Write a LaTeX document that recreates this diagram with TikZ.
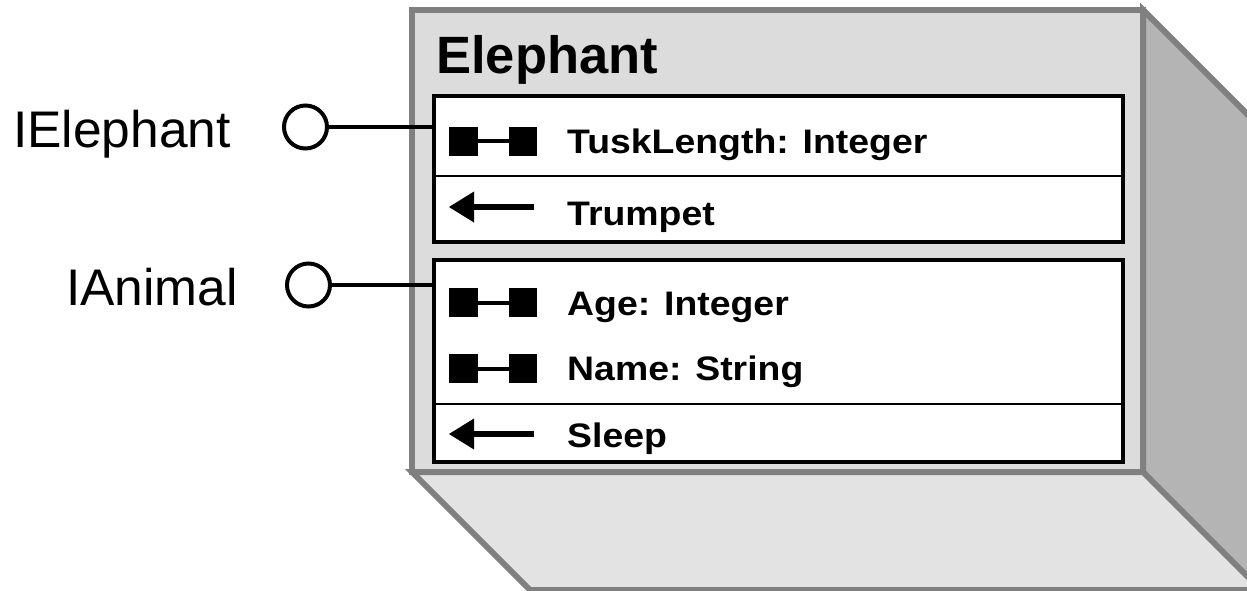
\documentclass[tikz,border=0pt]{standalone}
\usepackage{fontspec}
\setmainfont{Liberation Sans}
\usepackage{graphicx}
\definecolor{facefront}{gray}{0.863}
\definecolor{facebottom}{gray}{0.89}
\definecolor{faceside}{gray}{0.706}
\definecolor{edgegray}{gray}{0.5}
\newcommand{\memstretch}[1]{\scalebox{1.10}[1]{#1}}
\tikzset{
  edge/.style={draw=edgegray, line width=6pt, line join=miter},
  membox/.style={draw=black, fill=white, line width=4.5pt, rectangle, inner sep=0pt},
  divider/.style={draw=black, line width=2.5pt},
  memtext/.style={anchor=base west, inner sep=0pt, font=\fontsize{34}{40}\selectfont\bfseries},
  titletext/.style={anchor=base west, inner sep=0pt, font=\fontsize{52.5}{62}\selectfont\bfseries},
  iftext/.style={anchor=base east, inner sep=0pt, font=\fontsize{51.5}{61}\selectfont},
  lollipop/.style={circle, draw=black, fill=white, line width=4pt, minimum size=43pt, inner sep=0pt},
  conn/.style={draw=black, line width=3.5pt},
  propicon/.pic={
    \fill[black] (-44,-14.5) rectangle (-15,14.5);
    \fill[black] (16,-14.5) rectangle (44,14.5);
    \draw[black, line width=4pt] (-16,0) -- (17,0);
  },
  methicon/.pic={
    \fill[black] (-42,0) -- (-17,-15.5) -- (-17,15.5) -- cycle;
    \fill[black] (-18,-3) rectangle (43,3);
  }
}
\begin{document}
\begin{tikzpicture}[x=1pt,y=-1pt]
\useasboundingbox (0,0) rectangle (1247,590);
\clip (0,0) rectangle (1247,590);
% 3D faces
\filldraw[edge, fill=faceside] (1143,10) -- (1261,128) -- (1261,608) -- (1143,472) -- cycle;
\filldraw[edge, fill=facebottom] (412,472) -- (1143,472) -- (1261,590) -- (530,590) -- cycle;
\filldraw[edge, fill=facefront] (412,10) rectangle (1143,472);
% title
\node[titletext] (title) at (436,73) {Elephant};
% member boxes
\node[membox, minimum width=689pt, minimum height=146pt] (boxA) at (778.5,169) {};
\node[membox, minimum width=689pt, minimum height=202pt] (boxB) at (778.5,361) {};
\draw[divider] (boxA.west |- 0,176) coordinate (dA1) -- (boxA.east |- 0,176) coordinate (dA2);
\draw[divider] (boxB.west |- 0,404) coordinate (dB1) -- (boxB.east |- 0,404) coordinate (dB2);
% icons
\pic at (493,141) {propicon};
\pic at (491,207) {methicon};
\pic at (493,302.5) {propicon};
\pic at (493,368.5) {propicon};
\pic at (491,434) {methicon};
% member texts
\node[memtext] (tusk) at (567,153) {\memstretch{TuskLength: Integer}};
\node[memtext] (trumpet) at (567,225) {\memstretch{Trumpet}};
\node[memtext] (age) at (567,315) {\memstretch{Age: Integer}};
\node[memtext] (name) at (567,380) {\memstretch{Name: String}};
\node[memtext] (sleep) at (567,447) {\memstretch{Sleep}};
% interfaces
\node[lollipop] (lolA) at (305.5,127) {};
\node[lollipop] (lolB) at (308.5,285) {};
\draw[conn] (lolA.east) -- (lolA.east -| boxA.west);
\draw[conn] (lolB.east) -- (lolB.east -| boxB.west);
\node[iftext] (ifA) at (231,147) {IElephant};
\node[iftext] (ifB) at (238,305) {IAnimal};
\end{tikzpicture}
\end{document}
